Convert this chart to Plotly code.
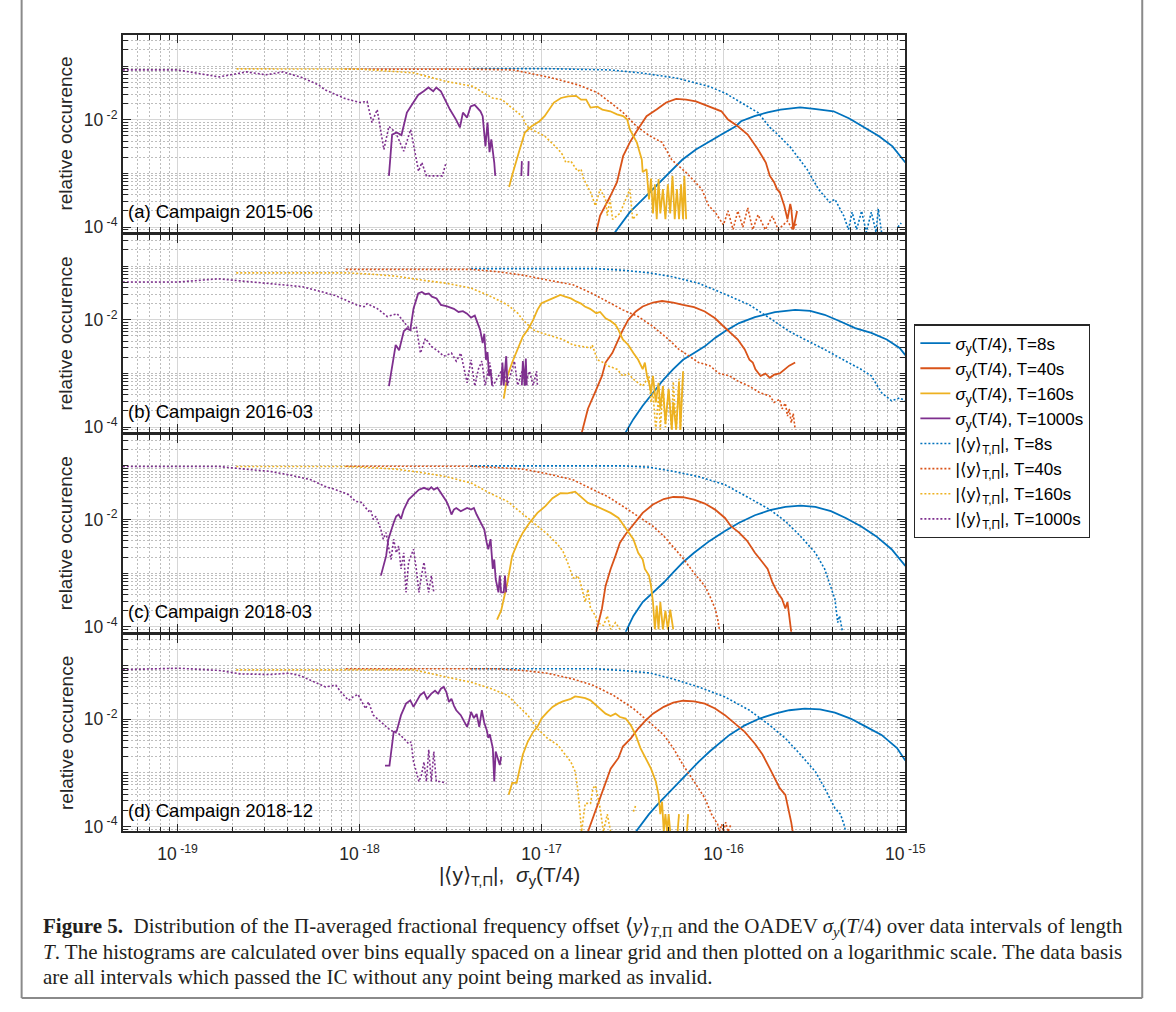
import math
import plotly.graph_objects as go

# ---------------------------------------------------------------------------
# Histogram data: relative occurrence vs. |<y>_T,Pi| and sigma_y(T/4)
# (None breaks a line where a bin is empty)
# ---------------------------------------------------------------------------

# ---- (a) Campaign 2015-06 ----
a_sig8_x = [2.5e-17, 3.06e-17, 3.6e-17, 4.29e-17, 5.05e-17, 5.94e-17, 7.06e-17, 8.3e-17, 9.75e-17, 1.17e-16, 1.25e-16,
            1.48e-16, 1.75e-16, 2.06e-16, 2.64e-16, 3.15e-16, 4.03e-16, 4.92e-16, 5.8e-16, 7.14e-16, 8.5e-16, 1.0e-15]
a_sig8_y = [7.5e-5, 0.00019, 0.00033, 0.00059, 0.00106, 0.0018, 0.0028, 0.0038, 0.0053, 0.0076, 0.0094,
            0.0117, 0.0138, 0.0155, 0.0171, 0.016, 0.0144, 0.0106, 0.0076, 0.005, 0.0032, 0.0016]
a_sig40_x = [1.98e-17, 2.1e-17, 2.39e-17, 2.6e-17, 2.81e-17, 3.06e-17, 3.34e-17, 3.78e-17, 4.29e-17, 4.85e-17, 5.5e-17,
             6.24e-17, 7.06e-17, 8.3e-17, 9.75e-17, 1.06e-16, 1.2e-16, 1.36e-16, 1.55e-16, 1.71e-16, 1.8e-16, 1.9e-16,
             1.97e-16, 2.04e-16, 2.16e-16, 2.25e-16, 2.33e-16, 2.36e-16, 2.42e-16, 2.54e-16]
a_sig40_y = [7e-5, 0.000164, 0.00038, 0.00069, 0.0021, 0.0038, 0.0062, 0.0117, 0.0155, 0.021, 0.0245,
             0.0238, 0.022, 0.0179, 0.0144, 0.0101, 0.0076, 0.0053, 0.0028, 0.0016, 0.0009, 0.00069,
             0.00051, 0.00045, 0.00025, 0.00014, 0.00027, 0.00022, 9e-5, 0.0002]
a_sig160_x = [6.64e-18, 6.88e-18, 7.52e-18, 8.1e-18, 8.83e-18, 9.75e-18, 1.04e-17, 1.17e-17, 1.28e-17, 1.4e-17, 1.55e-17,
              1.65e-17, 1.76e-17, 1.86e-17, 2.03e-17, 2.16e-17, 2.39e-17, 2.6e-17, 2.81e-17, 2.96e-17, 3.06e-17,
              3.34e-17, 3.56e-17, 3.6e-17, 3.78e-17, 3.9e-17, 4.0e-17, 4.1e-17, 4.2e-17, 4.3e-17, 4.4e-17, 4.5e-17,
              4.65e-17, 4.8e-17, 4.95e-17, 5.1e-17, 5.25e-17, 5.4e-17, 5.55e-17, 5.7e-17, 5.85e-17, 6.0e-17, 6.1e-17,
              6.24e-17]
a_sig160_y = [0.00056, 0.0009, 0.0025, 0.0058, 0.0076, 0.0094, 0.0117, 0.0209, 0.0255, 0.0273, 0.028,
              0.0238, 0.0238, 0.0169, 0.0176, 0.0155, 0.0144, 0.0126, 0.0117, 0.0101, 0.0066,
              0.0038, 0.0018, 0.00106, 0.0012, 0.00033, 0.0008, 0.00018, 0.00063, 0.00014, 0.00079, 0.00018,
              0.00051, 0.00014, 0.00063, 0.00018, 0.0009, 0.00014, 0.00051, 0.00014, 0.00063, 0.00014, 0.0009,
              0.00014]
a_sig1000_x = [1.45e-18, 1.51e-18, 1.6e-18, 1.7e-18, 1.82e-18, 1.98e-18, 2.1e-18, 2.25e-18, 2.39e-18, 2.54e-18, 2.64e-18,
               2.8e-18, 2.99e-18, 3.14e-18, 3.39e-18, 3.56e-18, 3.7e-18, 3.9e-18, 4.08e-18, 4.29e-18, 4.62e-18,
               4.75e-18, 4.92e-18, 5.05e-18, 5.18e-18, 5.3e-18, 5.5e-18, 5.57e-18, None, 7.75e-18, 7.8e-18, None,
               8.45e-18, 8.5e-18]
a_sig1000_y = [0.0009, 0.0053, 0.0058, 0.0052, 0.0136, 0.021, 0.029, 0.034, 0.040, 0.034, 0.040,
               0.034, 0.022, 0.0155, 0.0101, 0.0072, 0.0136, 0.011, 0.0178, 0.019, 0.0144,
               0.0117, 0.0032, 0.0089, 0.0025, 0.0043, 0.0016, 0.0009, None, 0.0009, 0.0017, None,
               0.0009, 0.0017]
a_off8_x = [4.2e-18, 1.04e-17, 2.39e-17, 3.6e-17, 5.5e-17, 8.3e-17, 1.02e-16, 1.25e-16, 1.55e-16, 1.8e-16, 1.97e-16,
            2.33e-16, 2.88e-16, 3.33e-16, 3.84e-16, 4.1e-16, 4.58e-16, 4.87e-16, 5.1e-16, 5.4e-16, 5.75e-16, 6.1e-16,
            6.5e-16, 6.9e-16, 7.1e-16, 7.4e-16, None, 9.1e-16, 9.5e-16]
a_off8_y = [0.09, 0.09, 0.085, 0.074, 0.06, 0.042, 0.0316, 0.021, 0.0136, 0.0072, 0.0055,
            0.0031, 0.0012, 0.00051, 0.00029, 0.00033, 0.000164, 9e-5, 0.00019, 9e-5, 0.0002, 8e-5,
            0.00019, 8e-5, 0.00022, 8e-5, None, 0.0001, 0.00012]
a_off40_x = [8.3e-19, 4e-18, 7e-18, 1.1e-17, 1.58e-17, 2.03e-17, 2.39e-17, 2.81e-17, 3.34e-17, 3.94e-17, 4.6e-17,
             5.2e-17, 5.7e-17, 6.2e-17, 7.0e-17, 7.6e-17, 8.3e-17, 9.0e-17, 1.0e-16, 1.06e-16, 1.13e-16, 1.2e-16,
             1.28e-16, 1.36e-16, 1.45e-16, 1.55e-16, 1.7e-16, 1.86e-16, 2.0e-16, 2.25e-16, 2.4e-16, 2.54e-16]
a_off40_y = [0.088, 0.088, 0.085, 0.062, 0.045, 0.032, 0.021, 0.0136, 0.0075, 0.005, 0.0038,
             0.0018, 0.00136, 0.00106, 0.00069, 0.00051, 0.00025, 0.00019, 0.00011, 0.0002, 9e-5, 0.0002,
             0.0001, 0.00023, 9e-5, 0.00017, 9e-5, 0.00016, 9e-5, 0.00013, 9e-5, 0.00012]
a_off160_x = [2.11e-19, 1.0e-18, 1.98e-18, 2.99e-18, 4.19e-18, 5.37e-18, 6.06e-18, 6.88e-18, 7.8e-18, 8.3e-18, 8.83e-18,
              1.04e-17, 1.24e-17, 1.31e-17, 1.36e-17, 1.45e-17, 1.58e-17, 1.65e-17, 1.7e-17, 1.86e-17, 1.98e-17,
              2.1e-17, 2.25e-17, 2.3e-17, 2.38e-17, 2.46e-17, 2.7e-17, 3.06e-17, 3.17e-17, 3.4e-17]
a_off160_y = [0.089, 0.088, 0.075, 0.052, 0.042, 0.0255, 0.0238, 0.0169, 0.0117, 0.0076, 0.0066,
              0.005, 0.0028, 0.0022, 0.0016, 0.0017, 0.0011, 0.0012, 0.0008, 0.00045, 0.00025,
              0.00051, 0.00033, 0.000164, 0.00033, 0.00014, 0.00018, 0.00051, 0.00014, 0.00018]
a_off1000_x = [5e-20, 1e-19, 1.69e-19, 2.39e-19, 3.06e-19, 3.79e-19, 4.85e-19, 5.93e-19, 6.47e-19, 8.3e-19, 1.0e-18,
               1.1e-18, 1.17e-18, 1.25e-18, 1.36e-18, 1.45e-18, 1.58e-18, 1.75e-18, 1.91e-18, 2.11e-18, 2.2e-18,
               2.33e-18, 2.5e-18, 2.7e-18, 2.85e-18, 2.99e-18]
a_off1000_y = [0.085, 0.085, 0.063, 0.078, 0.069, 0.078, 0.061, 0.045, 0.036, 0.025, 0.021,
               0.022, 0.0089, 0.0155, 0.0028, 0.0075, 0.0058, 0.0026, 0.0066, 0.0011, 0.0016,
               0.0009, 0.0009, 0.0009, 0.0009, 0.0016]

# ---- (b) Campaign 2016-03 ----
b_sig8_x = [2.9e-17, 3.2e-17, 3.6e-17, 4.1e-17, 4.7e-17, 5.3e-17, 6.0e-17, 6.9e-17, 7.9e-17, 9e-17, 1.02e-16, 1.22e-16,
            1.49e-16, 1.92e-16, 2.48e-16, 3.0e-16, 3.6e-16, 4.4e-16, 5.3e-16, 6.5e-16, 7.9e-16, 9.3e-16, 1.0e-15]
b_sig8_y = [8e-5, 0.000141, 0.00025, 0.00044, 0.00078, 0.0012, 0.0018, 0.0024, 0.0032, 0.0046, 0.0061, 0.0087,
            0.0112, 0.0139, 0.0153, 0.0147, 0.0124, 0.0093, 0.007, 0.0057, 0.0043, 0.003, 0.0022]
b_sig40_x = [1.65e-17, 1.8e-17, 2e-17, 2.15e-17, 2.25e-17, 2.45e-17, 2.65e-17, 2.8e-17, 3.0e-17, 3.3e-17, 3.6e-17,
             4.1e-17, 4.6e-17, 5.3e-17, 6.0e-17, 6.9e-17, 7.9e-17, 9e-17, 9.8e-17, 1.08e-16, 1.2e-16, 1.31e-16,
             1.39e-16, 1.45e-16, 1.5e-16, 1.6e-16, 1.7e-16, 1.8e-16, 1.9e-16, 2.04e-16, 2.19e-16, 2.3e-16, 2.48e-16]
b_sig40_y = [7e-5, 0.00022, 0.0005, 0.0009, 0.0016, 0.0024, 0.0043, 0.0065, 0.01, 0.0143, 0.0177,
             0.021, 0.0224, 0.021, 0.019, 0.0172, 0.0143, 0.0107, 0.0081, 0.0061, 0.0043, 0.0028,
             0.0018, 0.0016, 0.0012, 0.0009, 0.001, 0.00083, 0.00095, 0.001, 0.0012, 0.0014, 0.0016]
b_sig160_x = [6.2e-18, 6.5e-18, 6.9e-18, 7.4e-18, 7.9e-18, 8.4e-18, 9e-18, 9.5e-18, 1.0e-17, 1.15e-17, 1.27e-17,
              1.35e-17, 1.45e-17, 1.55e-17, 1.65e-17, 1.73e-17, 1.85e-17, 2e-17, 2.1e-17, 2.25e-17, 2.4e-17,
              2.55e-17, 2.65e-17, 2.8e-17, 3.0e-17, 3.2e-17, 3.4e-17, 3.6e-17, 3.7e-17, 3.8e-17, 3.9e-17, 4.0e-17,
              4.1e-17, 4.25e-17, 4.4e-17, 4.5e-17, 4.65e-17, 4.8e-17, 5.0e-17, 5.2e-17, 5.3e-17, 5.5e-17, 5.7e-17,
              5.8e-17, 6.0e-17]
b_sig160_y = [0.00034, 0.0009, 0.0016, 0.0028, 0.0049, 0.0065, 0.01, 0.0153, 0.0204, 0.025, 0.029,
              0.027, 0.025, 0.022, 0.02, 0.0177, 0.016, 0.0133, 0.014, 0.0107, 0.0095,
              0.0081, 0.0065, 0.0043, 0.0034, 0.0024, 0.0018, 0.0012, 0.0016, 0.0009, 0.00067, 0.00044,
              0.0009, 0.00029, 0.00067, 0.00022, 0.00058, 0.00012, 0.00052, 9e-5, 0.00029, 9e-5, 0.00067,
              9e-5, 0.0011]
b_sig1000_x = [1.45e-18, 1.58e-18, 1.65e-18, 1.75e-18, 1.82e-18, 1.9e-18, 1.98e-18, 2.1e-18, 2.2e-18, 2.3e-18, 2.4e-18,
               2.5e-18, 2.65e-18, 2.8e-18, 3.0e-18, 3.15e-18, 3.3e-18, 3.5e-18, 3.7e-18, 3.9e-18, 4.1e-18, 4.3e-18,
               4.5e-18, 4.6e-18, 4.75e-18, 4.85e-18, 4.95e-18, 5.05e-18, 5.15e-18, 5.25e-18, 5.35e-18, None,
               6.0e-18, 6.1e-18, 6.2e-18, 6.4e-18, 6.5e-18, None, 7.8e-18, 7.9e-18, 8.1e-18, 8.2e-18, 8.3e-18]
b_sig1000_y = [0.00058, 0.0034, 0.0027, 0.0061, 0.0069, 0.0064, 0.0162, 0.031, 0.033, 0.03, 0.031,
               0.027, 0.025, 0.019, 0.018, 0.017, 0.016, 0.014, 0.0145, 0.013, 0.011, 0.012,
               0.0075, 0.0065, 0.0037, 0.0055, 0.0018, 0.0025, 0.0009, 0.0012, 0.0006, None,
               0.0006, 0.0016, 0.0006, 0.0021, 0.0006, None, 0.0006, 0.0017, 0.0006, 0.0019, 0.0006]
b_off8_x = [4.1e-18, 2e-17, 2.8e-17, 3.9e-17, 5.3e-17, 7.3e-17, 1.02e-16, 1.39e-16, 1.8e-16, 2.3e-16, 2.8e-16,
            3.6e-16, 4.7e-16, 5.7e-16, 6.5e-16, 7.4e-16, 8.4e-16, 9.3e-16, 1.0e-15]
b_off8_y = [0.09, 0.09, 0.084, 0.075, 0.063, 0.048, 0.03, 0.019, 0.0107, 0.0061, 0.0043,
            0.0028, 0.0017, 0.0012, 0.0009, 0.00044, 0.00031, 0.00035, 0.00031]
b_off40_x = [8.4e-19, 4.1e-18, 5.7e-18, 7.9e-18, 1.08e-17, 1.49e-17, 1.9e-17, 2.3e-17, 2.8e-17, 3.4e-17, 4.1e-17,
             5e-17, 5.7e-17, 6.5e-17, 7.3e-17, 8.4e-17, 9.5e-17, 1.08e-16, 1.22e-16, 1.39e-16, 1.58e-16, 1.8e-16,
             1.9e-16, 2.04e-16, 2.1e-16, 2.19e-16, 2.25e-16, 2.3e-16, 2.36e-16, 2.42e-16, 2.48e-16]
b_off40_y = [0.087, 0.087, 0.079, 0.068, 0.055, 0.045, 0.031, 0.022, 0.0153, 0.0115, 0.0075,
             0.0043, 0.0028, 0.0021, 0.0016, 0.0014, 0.001, 0.0009, 0.0007, 0.00058, 0.00044, 0.00038,
             0.00029, 0.00033, 0.00022, 0.00028, 0.00016, 0.00022, 0.00012, 0.00018, 9e-5]
b_off160_x = [2.1e-19, 8.4e-19, 1.15e-18, 1.59e-18, 2.19e-18, 3.0e-18, 4.1e-18, 5.3e-18, 6.5e-18, 7.4e-18, 7.9e-18,
              8.4e-18, 9.0e-18, 1.0e-17, 1.15e-17, 1.31e-17, 1.49e-17, 1.69e-17, 1.86e-17, 1.9e-17, 2.03e-17,
              2.19e-17, 2.3e-17, 2.6e-17, 2.8e-17, 3.0e-17, 3.2e-17, 3.4e-17, 3.6e-17, 3.9e-17, 4.0e-17, 4.1e-17,
              4.25e-17, 4.4e-17, 4.5e-17, 4.65e-17, 4.8e-17, 5.0e-17, 5.2e-17, 5.3e-17, 5.5e-17, 5.7e-17, 5.8e-17,
              6.0e-17]
b_off160_y = [0.075, 0.075, 0.071, 0.065, 0.055, 0.048, 0.039, 0.027, 0.019, 0.0133, 0.01,
              0.0081, 0.0065, 0.0057, 0.0049, 0.0043, 0.0034, 0.0032, 0.003, 0.0034, 0.0018,
              0.0016, 0.0014, 0.0012, 0.0009, 0.001, 0.00078, 0.00067, 0.00058, 0.0009, 0.00029, 0.00044,
              9e-5, 0.00038, 9e-5, 0.00058, 0.0001, 0.0005, 9e-5, 0.0007, 9e-5, 0.0008, 9e-5,
              0.001]
b_off1000_x = [5e-20, 1e-19, 1.68e-19, 3.18e-19, 4.86e-19, 7.3e-19, 9.75e-19, 1.06e-18, 1.1e-18, 1.25e-18, 1.42e-18,
               1.61e-18, 1.75e-18, 1.91e-18, 2.05e-18, 2.16e-18, 2.3e-18, 2.48e-18, 2.7e-18, 2.9e-18, 3.2e-18,
               3.4e-18, 3.6e-18, 3.9e-18, 4.1e-18, 4.3e-18, 4.5e-18, 4.7e-18, 4.9e-18, 5.2e-18, 5.4e-18, 6.1e-18,
               6.5e-18, 7.1e-18, 7.4e-18, 7.9e-18, 8.1e-18, 8.6e-18, 9.0e-18, 9.4e-18, 9.5e-18]
b_off1000_y = [0.0506, 0.0506, 0.058, 0.047, 0.0414, 0.0286, 0.0186, 0.0176, 0.02, 0.0162, 0.0115,
               0.013, 0.0093, 0.0064, 0.0075, 0.0024, 0.0045, 0.0032, 0.0026, 0.0021, 0.0024,
               0.0017, 0.0024, 0.00067, 0.0018, 0.00058, 0.0012, 0.0017, 0.0006, 0.0016, 0.00058, 0.0012,
               0.0006, 0.0017, 0.0006, 0.0012, 0.0006, 0.0011, 0.0006, 0.0011, 0.0006]

# ---- (c) Campaign 2018-03 ----
c_sig8_x = [2.9e-17, 3.2e-17, 3.6e-17, 4.1e-17, 4.7e-17, 5.3e-17, 6.0e-17, 6.9e-17, 8.4e-17, 1.02e-16, 1.22e-16,
            1.49e-16, 1.8e-16, 2.19e-16, 2.65e-16, 3.2e-16, 3.9e-16, 4.7e-16, 5.7e-16, 6.9e-16, 8.4e-16, 1.0e-15]
c_sig8_y = [8e-5, 0.00016, 0.00029, 0.00044, 0.00067, 0.00103, 0.0016, 0.0024, 0.004, 0.0061, 0.0087,
            0.012, 0.0149, 0.0172, 0.0181, 0.0172, 0.0143, 0.0107, 0.0075, 0.0049, 0.0028, 0.00137]
c_sig40_x = [2e-17, 2.15e-17, 2.25e-17, 2.4e-17, 2.55e-17, 2.7e-17, 2.9e-17, 3.1e-17, 3.3e-17, 3.6e-17, 4.1e-17,
             4.7e-17, 5.3e-17, 6.0e-17, 6.9e-17, 7.9e-17, 9e-17, 1.02e-16, 1.1e-16, 1.22e-16, 1.35e-16, 1.49e-16,
             1.64e-16, 1.75e-16, 1.86e-16, 1.98e-16, 2.1e-16, 2.19e-16, 2.25e-16, 2.3e-16, 2.36e-16]
c_sig40_y = [8e-5, 0.00022, 0.00058, 0.0012, 0.0021, 0.0037, 0.0053, 0.007, 0.0093, 0.0133, 0.019,
             0.0241, 0.0263, 0.026, 0.0235, 0.0198, 0.0153, 0.0107, 0.0075, 0.0057, 0.004, 0.0024,
             0.0016, 0.0012, 0.00067, 0.00044, 0.00033, 0.00022, 0.00029, 0.00014, 8e-5]
c_sig160_x = [5.7e-18, 6.0e-18, 6.5e-18, 6.9e-18, 7.4e-18, 7.9e-18, 8.6e-18, 9.5e-18, 1.05e-17, 1.15e-17, 1.27e-17,
              1.39e-17, 1.53e-17, 1.63e-17, 1.8e-17, 1.98e-17, 2.19e-17, 2.4e-17, 2.65e-17, 2.8e-17, 3.0e-17,
              3.2e-17, 3.4e-17, 3.6e-17, 3.7e-17, 3.9e-17, 4.0e-17, 4.1e-17, 4.2e-17, 4.3e-17, 4.4e-17, 4.5e-17,
              4.65e-17, 4.8e-17, 4.95e-17, 5.1e-17, 5.3e-17]
c_sig160_y = [0.000136, 0.0002, 0.00067, 0.0021, 0.0037, 0.0057, 0.0087, 0.0133, 0.0177, 0.025, 0.031,
              0.0307, 0.033, 0.027, 0.0204, 0.018, 0.0153, 0.0133, 0.0107, 0.0081, 0.0057,
              0.0043, 0.0024, 0.0018, 0.0012, 0.0009, 0.00058, 0.00029, 9e-5, 0.00025, 9e-5, 0.00029,
              9e-5, 0.0002, 9e-5, 0.00021, 9e-5]
c_sig1000_x = [1.31e-18, 1.4e-18, 1.44e-18, 1.49e-18, 1.54e-18, 1.59e-18, 1.64e-18, 1.69e-18, 1.75e-18, 1.86e-18,
               1.98e-18, 2.12e-18, 2.26e-18, 2.4e-18, 2.48e-18, 2.56e-18, 2.68e-18, 2.8e-18, 3.0e-18, 3.1e-18,
               3.2e-18, 3.3e-18, 3.4e-18, 3.6e-18, 3.9e-18, 4.1e-18, 4.25e-18, 4.4e-18, 4.5e-18, 4.7e-18,
               4.85e-18, 5.0e-18, 5.1e-18, 5.25e-18, 5.4e-18, 5.5e-18, 5.6e-18, 5.8e-18, 5.9e-18, 6.0e-18,
               6.2e-18, 6.3e-18, 6.4e-18]
c_sig1000_y = [0.0009, 0.0021, 0.0043, 0.0065, 0.0087, 0.0115, 0.0124, 0.0103, 0.0153, 0.0235,
               0.029, 0.036, 0.039, 0.036, 0.04, 0.036, 0.039, 0.031, 0.022, 0.017,
               0.0124, 0.0153, 0.0164, 0.0143, 0.0164, 0.0153, 0.0164, 0.0124, 0.0107, 0.0081,
               0.0065, 0.0037, 0.0028, 0.0043, 0.0012, 0.0018, 0.00078, 0.00044, 0.0009, 0.00044,
               0.00044, 0.0009, 0.00044]
c_off8_x = [4.1e-18, 2.8e-17, 3.9e-17, 5.3e-17, 7.3e-17, 1.02e-16, 1.39e-16, 1.8e-16, 2.19e-16, 2.65e-16, 3.2e-16,
            3.6e-16, 4.1e-16, 4.25e-16, 4.35e-16, 4.5e-16]
c_off8_y = [0.1, 0.1, 0.0945, 0.079, 0.063, 0.0445, 0.025, 0.0153, 0.0093, 0.0049, 0.0024,
            0.0012, 0.00033, 0.00012, 0.00016, 8.5e-5]
c_off40_x = [8.4e-19, 4.1e-18, 5.7e-18, 7.9e-18, 1.08e-17, 1.49e-17, 1.92e-17, 2.3e-17, 2.8e-17, 3.4e-17, 4.1e-17,
             4.7e-17, 5.3e-17, 6.0e-17, 6.9e-17, 7.9e-17, 8.4e-17, 9e-17, 9.3e-17, 9.5e-17]
c_off40_y = [0.098, 0.098, 0.093, 0.087, 0.071, 0.055, 0.036, 0.027, 0.0177, 0.0115, 0.0075,
             0.0049, 0.003, 0.0019, 0.001, 0.00058, 0.00038, 0.00022, 0.00014, 9e-5]
c_off160_x = [2.1e-19, 8.4e-19, 1.15e-18, 1.59e-18, 2.19e-18, 3.0e-18, 4.1e-18, 5.3e-18, 6.5e-18, 7.4e-18, 8.4e-18,
              9.5e-18, 1.08e-17, 1.23e-17, 1.31e-17, 1.39e-17, 1.49e-17, 1.53e-17, 1.58e-17, 1.63e-17, 1.69e-17,
              1.74e-17, 1.8e-17, 1.86e-17, 1.92e-17, 1.98e-17, 2.03e-17, 2.19e-17, 2.3e-17, 2.4e-17, 2.55e-17,
              2.7e-17]
c_off160_y = [0.097, 0.097, 0.093, 0.087, 0.075, 0.063, 0.048, 0.03, 0.0218, 0.0153, 0.0107,
              0.0075, 0.0053, 0.0034, 0.0026, 0.0016, 0.00083, 0.00078, 0.0009, 0.0007, 0.00044,
              0.00029, 0.0005, 0.00022, 0.00019, 0.00016, 0.00012, 0.000106, 0.00016, 9e-5, 0.00012,
              9e-5]
c_off1000_x = [5e-20, 1.7e-19, 2.34e-19, 3.2e-19, 4.1e-19, 5.4e-19, 6.5e-19, 7.4e-19, 8.7e-19, 9.5e-19, 1.02e-18,
               1.08e-18, 1.12e-18, 1.15e-18, 1.19e-18, 1.23e-18, 1.31e-18, 1.35e-18, 1.4e-18, 1.44e-18, 1.49e-18,
               1.54e-18, 1.59e-18, 1.64e-18, 1.69e-18, 1.75e-18, 1.8e-18, 1.86e-18, 1.92e-18, 1.98e-18, 2.05e-18,
               2.12e-18, 2.19e-18, 2.26e-18, 2.33e-18, 2.4e-18, 2.48e-18, 2.56e-18]
c_off1000_y = [0.097, 0.097, 0.087, 0.079, 0.068, 0.055, 0.041, 0.036, 0.029, 0.0218, 0.021,
               0.0164, 0.0143, 0.0153, 0.01, 0.0115, 0.0065, 0.0043, 0.0057, 0.0032, 0.0018,
               0.0043, 0.0024, 0.0032, 0.0012, 0.0024, 0.00044, 0.0016, 0.0021, 0.0028, 0.0012,
               0.00044, 0.0009, 0.0016, 0.00078, 0.00044, 0.0009, 0.00044]

# ---- (d) Campaign 2018-12 ----
d_sig8_x = [3.3e-17, 3.9e-17, 4.4e-17, 5e-17, 5.7e-17, 6.5e-17, 7.3e-17, 8.4e-17, 9.5e-17, 1.08e-16, 1.31e-16,
            1.58e-16, 1.92e-16, 2.3e-16, 2.8e-16, 3.4e-16, 4.1e-16, 5e-16, 6.1e-16, 7.4e-16, 9e-16, 1e-15]
d_sig8_y = [8e-5, 0.00017, 0.00027, 0.00042, 0.00069, 0.00106, 0.0016, 0.0025, 0.0035, 0.0051, 0.0077,
            0.0103, 0.0127, 0.0147, 0.0158, 0.0153, 0.0133, 0.0103, 0.0072, 0.0051, 0.0029, 0.0017]
d_sig40_x = [1.8e-17, 2e-17, 2.2e-17, 2.4e-17, 2.65e-17, 2.8e-17, 3.1e-17, 3.4e-17, 3.75e-17, 4.1e-17, 4.7e-17,
             5.3e-17, 6e-17, 6.9e-17, 7.9e-17, 9e-17, 1.02e-16, 1.15e-16, 1.31e-16, 1.49e-16, 1.64e-16, 1.8e-16,
             1.92e-16, 2.04e-16, 2.19e-16, 2.25e-16, 2.3e-16, 2.36e-16, 2.42e-16]
d_sig40_y = [8e-5, 0.00022, 0.00052, 0.0012, 0.0019, 0.0031, 0.0044, 0.0067, 0.0096, 0.0127, 0.017,
             0.0203, 0.0221, 0.0215, 0.0195, 0.0158, 0.0119, 0.0083, 0.0058, 0.0035, 0.0022, 0.0012,
             0.0008, 0.00052, 0.00039, 0.00025, 0.0002, 0.00012, 7e-5]
d_sig160_x = [6.6e-18, 6.9e-18, 7.3e-18, 7.6e-18, 7.9e-18, 8.4e-18, 9e-18, 9.5e-18, 1e-17, 1.08e-17, 1.15e-17,
              1.23e-17, 1.31e-17, 1.45e-17, 1.53e-17, 1.63e-17, 1.74e-17, 1.86e-17, 2e-17, 2.15e-17, 2.25e-17,
              2.4e-17, 2.55e-17, 2.7e-17, 2.9e-17, 3.1e-17, 3.3e-17, 3.5e-17, 3.75e-17, 4e-17, 4.25e-17, 4.4e-17,
              4.5e-17, 4.6e-17, 4.7e-17, 4.8e-17, 4.9e-17, 5.0e-17, 5.1e-17, None, 5.6e-17, 5.7e-17, None,
              6.3e-17, 6.4e-17]
d_sig160_y = [0.00039, 0.00065, 0.00065, 0.0012, 0.0022, 0.0038, 0.0058, 0.0072, 0.0103, 0.0137, 0.017,
              0.0195, 0.0215, 0.024, 0.0266, 0.0259, 0.0248, 0.0225, 0.018, 0.0147, 0.0127,
              0.0115, 0.0127, 0.011, 0.0103, 0.0077, 0.005, 0.0029, 0.0019, 0.0012, 0.00069, 0.00039,
              0.00017, 0.00029, 8e-5, 0.00017, 8e-5, 0.00017, 8e-5, None, 8e-5, 0.00017, None,
              8e-5, 0.00017]
d_sig1000_x = [1.38e-18, 1.46e-18, 1.54e-18, 1.6e-18, 1.69e-18, 1.8e-18, 1.9e-18, 1.98e-18, 2.05e-18, 2.15e-18,
               2.26e-18, 2.35e-18, 2.48e-18, 2.6e-18, 2.7e-18, 2.8e-18, 2.9e-18, 3.0e-18, 3.1e-18, 3.2e-18,
               3.3e-18, 3.4e-18, 3.6e-18, 3.9e-18, 4.0e-18, 4.1e-18, 4.25e-18, 4.4e-18, 4.55e-18, 4.7e-18,
               4.85e-18, 5.0e-18, 5.1e-18, 5.2e-18, 5.4e-18, 5.5e-18, 5.6e-18, 5.8e-18, 5.9e-18, 6.0e-18]
d_sig1000_y = [0.00137, 0.00137, 0.0058, 0.006, 0.0119, 0.0195, 0.0225, 0.017, 0.021, 0.0278,
               0.032, 0.024, 0.03, 0.034, 0.03, 0.037, 0.040, 0.032, 0.021, 0.024,
               0.018, 0.0147, 0.0119, 0.0072, 0.0095, 0.0137, 0.0105, 0.0125, 0.0072, 0.0147,
               0.0085, 0.0063, 0.0045, 0.0052, 0.0029, 0.00069, 0.0025, 0.0017, 0.0014, 0.002]
d_off8_x = [4.1e-18, 2.0e-17, 2.8e-17, 3.9e-17, 5.3e-17, 7.3e-17, 1.02e-16, 1.39e-16, 1.8e-16, 2.19e-16, 2.65e-16,
            3.2e-16, 3.6e-16, 4.1e-16, 4.4e-16, 4.6e-16, 4.7e-16]
d_off8_y = [0.087, 0.087, 0.081, 0.073, 0.056, 0.04, 0.026, 0.0147, 0.0077, 0.0044, 0.0022,
            0.00106, 0.00052, 0.00022, 0.00017, 0.00011, 8e-5]
d_off40_x = [8.4e-19, 5.7e-18, 7.9e-18, 1.08e-17, 1.49e-17, 1.92e-17, 2.48e-17, 3.2e-17, 3.9e-17, 4.7e-17, 5.3e-17,
             6e-17, 6.9e-17, 7.9e-17, 8.6e-17, 9.3e-17, 9.5e-17, 9.8e-17, 1.0e-16, 1.03e-16, 1.06e-16, 1.1e-16]
d_off40_y = [0.087, 0.087, 0.081, 0.072, 0.056, 0.043, 0.028, 0.0158, 0.0089, 0.0051, 0.0029,
             0.0014, 0.00069, 0.00034, 0.00017, 0.00011, 8e-5, 0.00011, 8e-5, 0.00012, 8e-5, 0.00011]
d_off160_x = [2.1e-19, 2.0e-18, 3.0e-18, 4.1e-18, 5.3e-18, 6.5e-18, 7.4e-18, 8.4e-18, 9.5e-18, 1.08e-17, 1.23e-17,
              1.31e-17, 1.45e-17, 1.53e-17, 1.58e-17, 1.63e-17, 1.66e-17, 1.74e-17, 1.86e-17, 1.92e-17, 1.98e-17,
              2.03e-17, 2.1e-17, 2.19e-17, 2.3e-17, 2.4e-17, None, 3.2e-17, 3.3e-17]
d_off160_y = [0.083, 0.083, 0.061, 0.049, 0.037, 0.028, 0.018, 0.0119, 0.0067, 0.0044, 0.0033,
              0.0025, 0.0016, 0.00106, 0.00052, 0.00017, 8e-5, 0.00027, 0.00027, 0.00052, 0.00058,
              0.00039, 0.00022, 8e-5, 0.00017, 8e-5, None, 0.00019, 0.00025]
d_off1000_x = [5e-20, 1.02e-19, 1.7e-19, 2.2e-19, 3.2e-19, 4.1e-19, 4.7e-19, 5.4e-19, 6.1e-19, 6.5e-19, 7.4e-19,
               7.9e-19, 8.7e-19, 9.2e-19, 9.8e-19, 1.05e-18, 1.08e-18, 1.12e-18, 1.19e-18, 1.31e-18, 1.44e-18,
               1.54e-18, 1.64e-18, 1.75e-18, 1.86e-18, 1.92e-18, 1.98e-18, 2.05e-18, 2.12e-18, 2.19e-18, 2.26e-18,
               2.33e-18, 2.4e-18, 2.48e-18, 2.56e-18, 2.64e-18, 2.8e-18, 3.0e-18]
d_off1000_y = [0.084, 0.089, 0.081, 0.07, 0.068, 0.072, 0.065, 0.053, 0.043, 0.040, 0.043,
               0.032, 0.0225, 0.026, 0.029, 0.018, 0.0158, 0.021, 0.0119, 0.0089, 0.0067,
               0.0058, 0.0054, 0.0044, 0.0035, 0.0038, 0.0016, 0.00106, 0.00069, 0.00092, 0.0016,
               0.00069, 0.0027, 0.00069, 0.0025, 0.00069, 0.00069, 0.00064]

panel_labels = ["(a) Campaign 2015-06", "(b) Campaign 2016-03", "(c) Campaign 2018-03", "(d) Campaign 2018-12"]
series_names = [
    "<i>σ</i><sub>y</sub>(T/4), T=8s",
    "<i>σ</i><sub>y</sub>(T/4), T=40s",
    "<i>σ</i><sub>y</sub>(T/4), T=160s",
    "<i>σ</i><sub>y</sub>(T/4), T=1000s",
    "|⟨y⟩<sub>T,Π</sub>|, T=8s",
    "|⟨y⟩<sub>T,Π</sub>|, T=40s",
    "|⟨y⟩<sub>T,Π</sub>|, T=160s",
    "|⟨y⟩<sub>T,Π</sub>|, T=1000s",
]
x_tick_vals = [1e-19, 1e-18, 1e-17, 1e-16, 1e-15]
x_tick_text = ["10<sup> -19</sup>", "10<sup> -18</sup>", "10<sup> -17</sup>", "10<sup> -16</sup>", "10<sup> -15</sup>"]
y_tick_vals = [1e-4, 1e-2]
y_tick_text = ["10<sup> -4</sup>", "10<sup> -2</sup>"]

panels = [
    [(a_sig8_x, a_sig8_y), (a_sig40_x, a_sig40_y), (a_sig160_x, a_sig160_y), (a_sig1000_x, a_sig1000_y),
     (a_off8_x, a_off8_y), (a_off40_x, a_off40_y), (a_off160_x, a_off160_y), (a_off1000_x, a_off1000_y)],
    [(b_sig8_x, b_sig8_y), (b_sig40_x, b_sig40_y), (b_sig160_x, b_sig160_y), (b_sig1000_x, b_sig1000_y),
     (b_off8_x, b_off8_y), (b_off40_x, b_off40_y), (b_off160_x, b_off160_y), (b_off1000_x, b_off1000_y)],
    [(c_sig8_x, c_sig8_y), (c_sig40_x, c_sig40_y), (c_sig160_x, c_sig160_y), (c_sig1000_x, c_sig1000_y),
     (c_off8_x, c_off8_y), (c_off40_x, c_off40_y), (c_off160_x, c_off160_y), (c_off1000_x, c_off1000_y)],
    [(d_sig8_x, d_sig8_y), (d_sig40_x, d_sig40_y), (d_sig160_x, d_sig160_y), (d_sig1000_x, d_sig1000_y),
     (d_off8_x, d_off8_y), (d_off40_x, d_off40_y), (d_off160_x, d_off160_y), (d_off1000_x, d_off1000_y)],
]

# ---------------------------------------------------------------------------
# Styling
# ---------------------------------------------------------------------------
W, H = 1176, 1012
COLORS = ["#0072BD", "#D95319", "#EDB120", "#7E2F8E"]
AXIS_COLOR = "#262626"
FONT = "Liberation Sans, Arial, sans-serif"
SERIF = "Liberation Serif, Times New Roman, serif"

X_LEFT, X_RIGHT = 125, 921            # plot box, pixels
PANEL_TOPS = [35.5, 236.5, 437.2, 637.9]
PANEL_H = 197.7
Y_RANGE = [math.log10(8.1e-5), math.log10(0.375)]
X_RANGE = [math.log10(5e-20), -15]


def px(x):
    return x / W


def py(y):
    return 1 - y / H


x_minor = [m * 10.0 ** e for e in range(-20, -15) for m in range(2, 10)]
y_minor = [m * 10.0 ** e for e in range(-5, 0) for m in range(1, 10) if not (m == 1 and e in (-4, -2))]

fig = go.Figure()

for p, series in enumerate(panels):
    xa = "x" if p == 0 else f"x{p + 1}"
    ya = "y" if p == 0 else f"y{p + 1}"
    for k, (xs, ys) in enumerate(series):
        dotted = k >= 4
        fig.add_trace(go.Scatter(
            x=xs, y=ys, xaxis=xa, yaxis=ya, mode="lines",
            line=dict(color=COLORS[k % 4], width=1.6 if dotted else 1.8,
                      dash="2px,2px" if dotted else "solid"),
            name=series_names[k], legendgroup=f"g{k}", showlegend=(p == 0),
            connectgaps=False, hoverinfo="skip",
        ))

layout_axes = {}
for p in range(4):
    top = PANEL_TOPS[p]
    bottom = top + PANEL_H
    xkey = "xaxis" if p == 0 else f"xaxis{p + 1}"
    ykey = "yaxis" if p == 0 else f"yaxis{p + 1}"
    yname = "y" if p == 0 else f"y{p + 1}"
    xname = "x" if p == 0 else f"x{p + 1}"
    common = dict(
        showline=True, linecolor=AXIS_COLOR, linewidth=1.8, mirror="allticks",
        ticks="inside", ticklen=8, tickwidth=1.1, tickcolor=AXIS_COLOR,
        showgrid=True, gridcolor="#d6d6d6", gridwidth=1.3, zeroline=False,
        tickfont=dict(family=FONT, size=17.5, color=AXIS_COLOR),
    )
    layout_axes[xkey] = dict(
        common, type="log", range=X_RANGE, domain=[px(X_LEFT), px(X_RIGHT)], anchor=yname,
        tickmode="array", tickvals=x_tick_vals, ticktext=x_tick_text,
        showticklabels=(p == 3), ticklabelstandoff=6,
        minor=dict(tickmode="array", tickvals=x_minor, ticks="inside", ticklen=5, tickwidth=1,
                   tickcolor=AXIS_COLOR, showgrid=True, gridcolor="#bdbdbd", griddash="2px,2px", gridwidth=1),
    )
    layout_axes[ykey] = dict(
        common, type="log", range=Y_RANGE, domain=[py(bottom), py(top)], anchor=xname,
        tickmode="array", tickvals=y_tick_vals, ticktext=y_tick_text,
        minor=dict(tickmode="array", tickvals=y_minor, ticks="inside", ticklen=5, tickwidth=1,
                   tickcolor=AXIS_COLOR, showgrid=True, gridcolor="#bdbdbd", griddash="2px,2px", gridwidth=1),
    )

annotations = []
for p in range(4):
    top = PANEL_TOPS[p]
    annotations.append(dict(
        text="relative occurence", textangle=-90, x=px(67), y=py(top + PANEL_H / 2),
        xref="paper", yref="paper", xanchor="center", yanchor="middle", showarrow=False,
        font=dict(family=FONT, size=19, color=AXIS_COLOR)))
    annotations.append(dict(
        text=panel_labels[p], x=px(128), y=py(top + 177), xref="paper", yref="paper",
        xanchor="left", yanchor="middle", showarrow=False,
        font=dict(family=FONT, size=18.5, color="#000000")))

annotations.append(dict(
    text="|⟨y⟩<sub>T,Π</sub>|,\u00a0\u00a0<i>σ</i><sub>y</sub>(T/4)", x=px(518), y=py(880),
    xref="paper", yref="paper", xanchor="center", yanchor="middle", showarrow=False,
    font=dict(family=FONT, size=21, color=AXIS_COLOR)))

caption = [
    "<b>Figure 5.</b>\u00a0\u00a0Distribution of the Π-averaged fractional frequency offset "
    "⟨<i>y</i>⟩<sub><i>T</i>,Π</sub> and the OADEV <i>σ<sub>y</sub></i>(<i>T</i>/4) over data intervals of length",
    "<i>T</i>. The histograms are calculated over bins equally spaced on a linear grid and then plotted on a "
    "logarithmic scale. The data basis",
    "are all intervals which passed the IC without any point being marked as invalid.",
]
for i, line in enumerate(caption):
    annotations.append(dict(
        text=line, x=px(42), y=py(932 + 25 * i), xref="paper", yref="paper",
        xanchor="left", yanchor="middle", showarrow=False,
        font=dict(family=SERIF, size=21, color="#231f20")))

# outer figure frame
frame_color = "#8a8a8a"
shapes = [
    dict(type="line", xref="paper", yref="paper", x0=px(22), x1=px(22), y0=py(1003), y1=1, line=dict(color=frame_color, width=2)),
    dict(type="line", xref="paper", yref="paper", x0=px(1162), x1=px(1162), y0=py(1003), y1=1, line=dict(color=frame_color, width=2)),
    dict(type="line", xref="paper", yref="paper", x0=px(22), x1=px(1162), y0=py(1003), y1=py(1003), line=dict(color=frame_color, width=2)),
]

fig.update_layout(
    width=W, height=H, autosize=False,
    margin=dict(l=0, r=0, t=0, b=0),
    paper_bgcolor="white", plot_bgcolor="white",
    annotations=annotations, shapes=shapes,
    legend=dict(
        x=px(930), y=py(326), xanchor="left", yanchor="top",
        bgcolor="white", bordercolor=AXIS_COLOR, borderwidth=1.2,
        font=dict(family=FONT, size=17, color="#000000"),
        traceorder="normal", tracegroupgap=4, itemwidth=30,
    ),
    **layout_axes,
)

fig.write_html("out.html")
